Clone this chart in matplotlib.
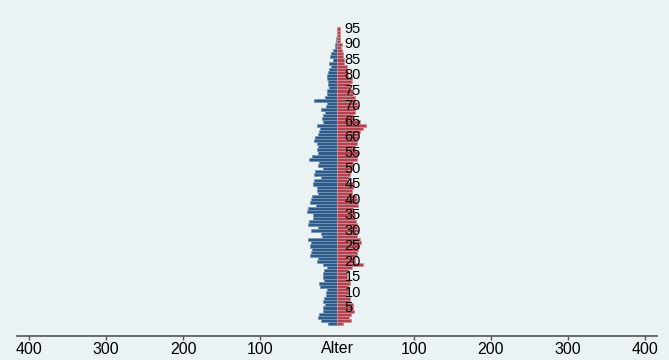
import numpy as np
import matplotlib
matplotlib.use('Agg')
import matplotlib.pyplot as plt
import matplotlib.transforms as mtransforms

# Alter 0..95
ages = list(range(0, 96))

# Männer (links)
maenner = [12, 21, 25, 23, 18, 18, 16, 18, 17, 14,
           14, 13, 22, 23, 17, 18, 18, 17, 13, 18,
           26, 25, 35, 34, 33, 35, 34, 38, 20, 21,
           34, 25, 38, 36, 31, 31, 39, 38, 27, 35,
           34, 33, 25, 26, 26, 31, 30, 21, 30, 29,
           18, 25, 23, 36, 33, 25, 26, 25, 26, 30,
           29, 25, 23, 22, 26, 18, 20, 18, 16, 21,
           14, 13, 30, 16, 13, 13, 10, 12, 12, 13,
           13, 12, 10, 8, 10, 5, 9, 8, 5, 3,
           3, 1, 1, 0, 0, 0]

# Frauen (rechts)
frauen = [8, 18, 16, 18, 22, 21, 21, 17, 17, 13,
          14, 14, 14, 17, 17, 13, 13, 14, 20, 34,
          23, 23, 26, 26, 27, 29, 31, 30, 26, 25,
          27, 26, 26, 25, 23, 23, 21, 21, 27, 26,
          26, 25, 20, 20, 21, 22, 14, 16, 17, 18,
          20, 21, 21, 26, 26, 27, 23, 23, 26, 26,
          27, 27, 30, 34, 38, 30, 21, 21, 23, 23,
          27, 26, 23, 23, 21, 21, 16, 17, 20, 20,
          14, 14, 13, 13, 9, 9, 8, 8, 7, 5,
          7, 4, 4, 4, 4, 4]

age_labels = list(range(5, 100, 5))
xticks = [-400, -300, -200, -100, 100, 200, 300, 400]
xticklabels = ['400', '300', '200', '100', '100', '200', '300', '400']

bg = '#EAF2F3'
plt.rcParams['font.family'] = ['Liberation Sans', 'DejaVu Sans']

fig = plt.figure(figsize=(6.69, 3.6), dpi=100, facecolor=bg)
ax = fig.add_axes([17 / 669, 24 / 360, 640 / 669, 331 / 360], facecolor=bg)

ax.barh(ages, [-m for m in maenner], height=1.0, color='#2E5B88',
        edgecolor='#7397BB', linewidth=0.6)
ax.barh(ages, frauen, height=1.0, color='#B2424E',
        edgecolor='#D48C94', linewidth=0.6)

for a in age_labels:
    ax.text(10, a, str(a), ha='left', va='center', fontsize=10.5, color='black')

ax.set_xlim(-415.6, 415.6)
ax.set_ylim(-4.03, 102.74)

ax.set_xticks(xticks)
ax.set_xticklabels(xticklabels, fontsize=11.5)
ax.set_yticks([])
ax.tick_params(axis='x', length=3, width=1, color='#555555', pad=1.5)

for s in ['top', 'left', 'right']:
    ax.spines[s].set_visible(False)
ax.spines['bottom'].set_color('#555555')
ax.spines['bottom'].set_linewidth(1.2)

trans = mtransforms.blended_transform_factory(ax.transData, ax.transAxes)
ax.text(0, -0.016, 'Alter', transform=trans, ha='center', va='top', fontsize=11.5)

fig.savefig('out.png', dpi=100, facecolor=bg)
